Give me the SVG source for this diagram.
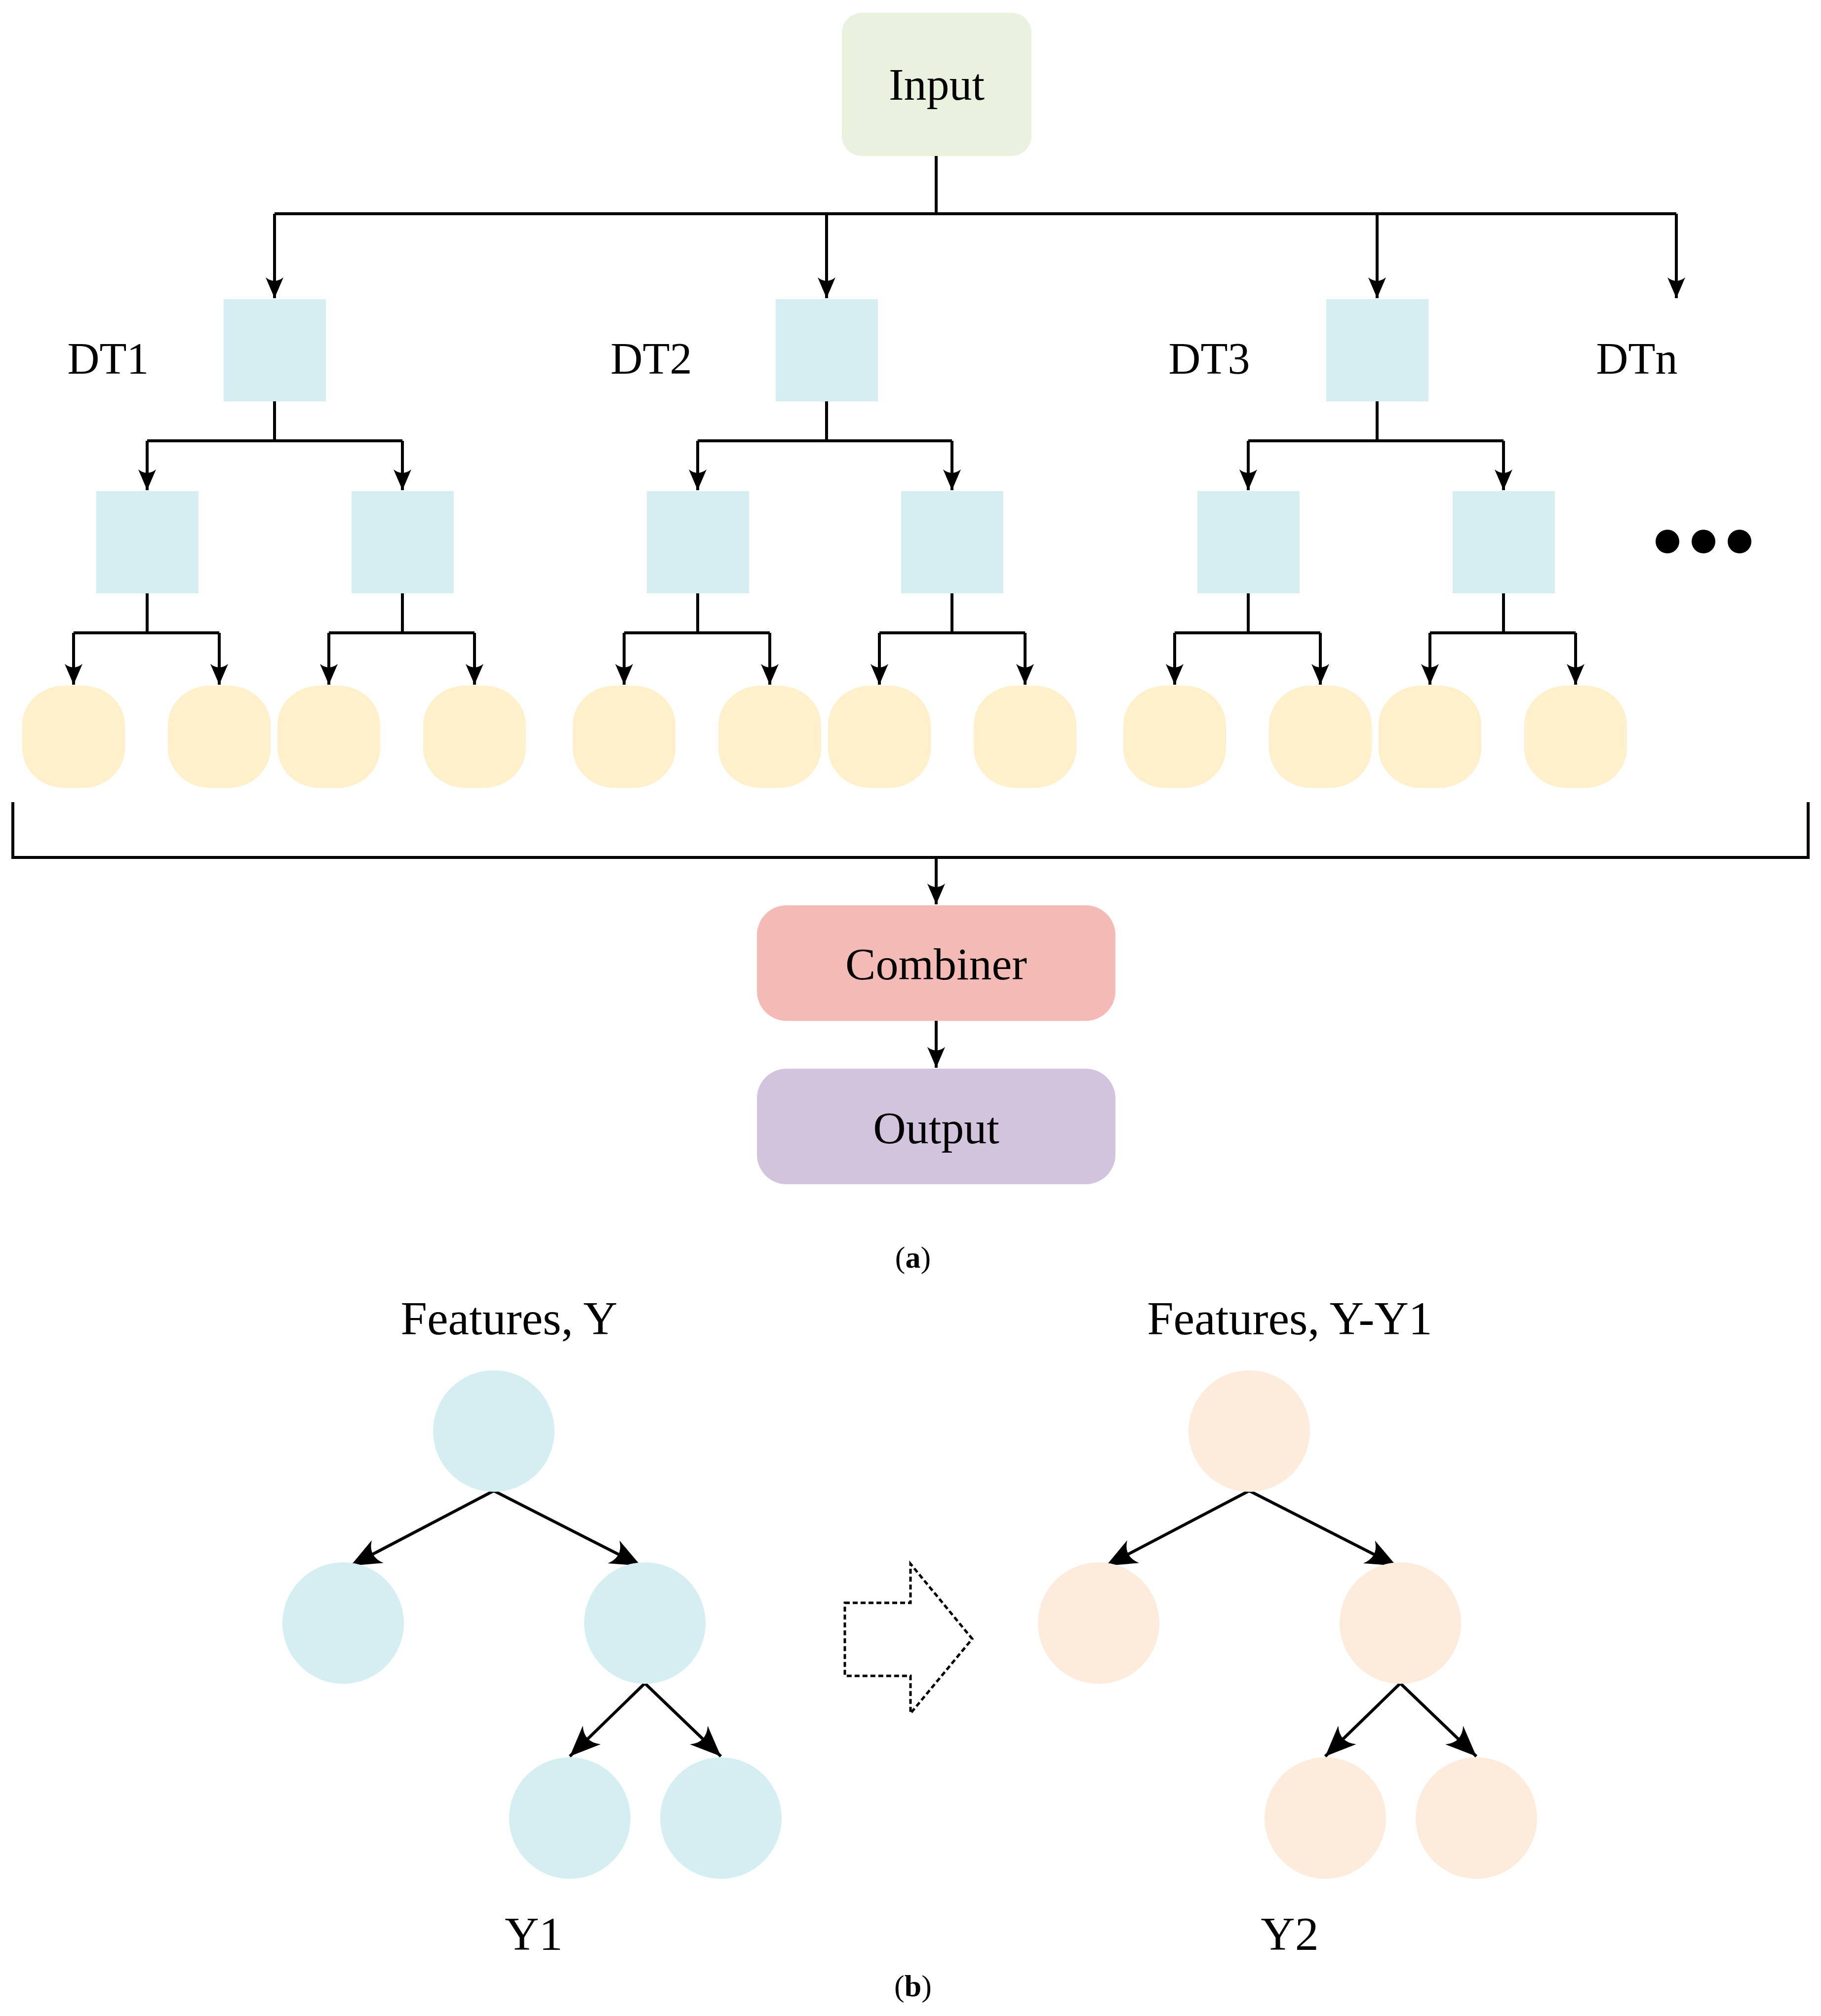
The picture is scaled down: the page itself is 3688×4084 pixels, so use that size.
<svg xmlns="http://www.w3.org/2000/svg" width="3688" height="4084" viewBox="0 0 3688 4084">
<style>
.t{font-family:"Liberation Serif","Times New Roman",serif;fill:#000}
.ln{fill:none;stroke:#000;stroke-width:6}
.a{marker-end:url(#ah)}
.b{marker-end:url(#bh)}
.sq{fill:#d4eef2}
.lf{fill:#fdf0cb}
.bc{fill:#d4eef2}
.oc{fill:#fdebdc}
</style>
<defs>
<marker id="ah" markerUnits="userSpaceOnUse" viewBox="-44 -20 46 40" refX="0" refY="0" markerWidth="46" markerHeight="40" orient="auto">
<path d="M0,0 L-42,-18 Q-28,0 -42,18 Z" fill="#000"/>
</marker>
<marker id="bh" markerUnits="userSpaceOnUse" viewBox="-64 -28 66 56" refX="0" refY="0" markerWidth="66" markerHeight="56" orient="auto">
<path d="M0,0 L-62,-26 Q-40,0 -62,26 Z" fill="#000"/>
</marker>
</defs>
<g id="input"><rect x="1705" y="26" width="384" height="290" rx="40" fill="#e9f2df"/><text class="t" x="1897" y="202" font-size="92" text-anchor="middle">Input</text></g>
<g id="labels">
<text class="t" x="219" y="757" font-size="90" text-anchor="middle">DT1</text>
<text class="t" x="1319" y="757" font-size="90" text-anchor="middle">DT2</text>
<text class="t" x="2449" y="757" font-size="90" text-anchor="middle">DT3</text>
<text class="t" x="3315" y="757" font-size="90" text-anchor="middle">DTn</text>
</g>
<g id="dots"><circle cx="3377" cy="1097" r="24"/><circle cx="3450" cy="1097" r="24"/><circle cx="3523" cy="1097" r="24"/></g>
<g id="trees-a">
<rect class="sq" x="453" y="606" width="207" height="207"/>
<rect class="sq" x="1571" y="606" width="207" height="207"/>
<rect class="sq" x="2686" y="606" width="207" height="207"/>
<rect class="sq" x="195" y="995" width="207" height="207"/>
<rect class="sq" x="712" y="995" width="207" height="207"/>
<rect class="sq" x="1310" y="995" width="207" height="207"/>
<rect class="sq" x="1825" y="995" width="207" height="207"/>
<rect class="sq" x="2425" y="995" width="207" height="207"/>
<rect class="sq" x="2942" y="995" width="207" height="207"/>
<g class="lf">
<rect x="45" y="1389" width="208" height="207" rx="85" ry="80"/>
<rect x="340" y="1389" width="208" height="207" rx="85" ry="80"/>
<rect x="562" y="1389" width="208" height="207" rx="85" ry="80"/>
<rect x="857" y="1389" width="208" height="207" rx="85" ry="80"/>
<rect x="1160" y="1389" width="208" height="207" rx="85" ry="80"/>
<rect x="1455" y="1389" width="208" height="207" rx="85" ry="80"/>
<rect x="1677" y="1389" width="208" height="207" rx="85" ry="80"/>
<rect x="1972" y="1389" width="208" height="207" rx="85" ry="80"/>
<rect x="2275" y="1389" width="208" height="207" rx="85" ry="80"/>
<rect x="2570" y="1389" width="208" height="207" rx="85" ry="80"/>
<rect x="2792" y="1389" width="208" height="207" rx="85" ry="80"/>
<rect x="3087" y="1389" width="208" height="207" rx="85" ry="80"/>
</g>
</g>
<g id="combiner"><rect x="1533" y="1834" width="726" height="234" rx="60" fill="#f4bbb6"/><text class="t" x="1896" y="1984" font-size="92" text-anchor="middle">Combiner</text></g>
<g id="output"><rect x="1533" y="2165" width="726" height="234" rx="60" fill="#d3c4dd"/><text class="t" x="1896" y="2316" font-size="92" text-anchor="middle">Output</text></g>
<g id="caption-a"><text class="t" x="1849" y="2568" font-size="62" text-anchor="middle">(<tspan font-weight="bold">a</tspan>)</text></g>
<g id="connectors">
<path class="ln" d="M1896,316 V433 M556,433 H3395"/>
<path class="ln a" d="M556,433 V604"/><path class="ln a" d="M1674,433 V604"/><path class="ln a" d="M2789,433 V604"/><path class="ln a" d="M3395,433 V604"/>
<path class="ln" d="M556,813 V893 M298,893 H815 M1674,813 V893 M1413,893 H1928 M2789,813 V893 M2528,893 H3045"/>
<path class="ln a" d="M298,893 V993"/><path class="ln a" d="M815,893 V993"/>
<path class="ln a" d="M1413,893 V993"/><path class="ln a" d="M1928,893 V993"/>
<path class="ln a" d="M2528,893 V993"/><path class="ln a" d="M3045,893 V993"/>
<path class="ln" d="M298,1202 V1282 M149,1282 H444 M815,1202 V1282 M666,1282 H961 M1413,1202 V1282 M1264,1282 H1559 M1928,1202 V1282 M1781,1282 H2076 M2528,1202 V1282 M2379,1282 H2674 M3045,1202 V1282 M2896,1282 H3191"/>
<path class="ln a" d="M149,1282 V1387"/><path class="ln a" d="M444,1282 V1387"/><path class="ln a" d="M666,1282 V1387"/><path class="ln a" d="M961,1282 V1387"/>
<path class="ln a" d="M1264,1282 V1387"/><path class="ln a" d="M1559,1282 V1387"/><path class="ln a" d="M1781,1282 V1387"/><path class="ln a" d="M2076,1282 V1387"/>
<path class="ln a" d="M2379,1282 V1387"/><path class="ln a" d="M2674,1282 V1387"/><path class="ln a" d="M2896,1282 V1387"/><path class="ln a" d="M3191,1282 V1387"/>
<path class="ln" d="M26,1625 V1737 H3662 V1625"/>
<path class="ln a" d="M1896,1737 V1832"/>
<path class="ln a" d="M1896,2068 V2163"/>
<path class="ln b" d="M1000,3020 L710,3172"/><path class="ln b" d="M1000,3020 L1298,3172"/>
<path class="ln b" d="M1306,3410 L1154,3558"/><path class="ln b" d="M1306,3410 L1460,3558"/>
<path class="ln b" d="M2530,3020 L2240,3172"/><path class="ln b" d="M2530,3020 L2828,3172"/>
<path class="ln b" d="M2836,3410 L2684,3558"/><path class="ln b" d="M2836,3410 L2990,3558"/>
</g>
<g id="tree-b-left">
<text class="t" x="1031" y="2703" font-size="96" text-anchor="middle">Features, Y</text>
<circle class="bc" cx="1000" cy="2899" r="123"/>
<circle class="bc" cx="695" cy="3288" r="123"/>
<circle class="bc" cx="1306" cy="3288" r="123"/>
<circle class="bc" cx="1154" cy="3683" r="123"/>
<circle class="bc" cx="1460" cy="3683" r="123"/>
<text class="t" x="1081" y="3950" font-size="96" text-anchor="middle">Y1</text>
</g>
<g id="tree-b-right">
<text class="t" x="2612" y="2703" font-size="96" text-anchor="middle">Features, Y-Y1</text>
<circle class="oc" cx="2530" cy="2899" r="123"/>
<circle class="oc" cx="2225" cy="3288" r="123"/>
<circle class="oc" cx="2836" cy="3288" r="123"/>
<circle class="oc" cx="2684" cy="3683" r="123"/>
<circle class="oc" cx="2990" cy="3683" r="123"/>
<text class="t" x="2612" y="3950" font-size="96" text-anchor="middle">Y2</text>
</g>
<g id="hollow-arrow"><path d="M1711,3247 H1844 V3168 L1969,3320 L1844,3471 V3395 H1711 Z" fill="none" stroke="#000" stroke-width="5" stroke-dasharray="10,6"/></g>
<g id="caption-b"><text class="t" x="1849" y="4044" font-size="62" text-anchor="middle">(<tspan font-weight="bold">b</tspan>)</text></g>
</svg>
